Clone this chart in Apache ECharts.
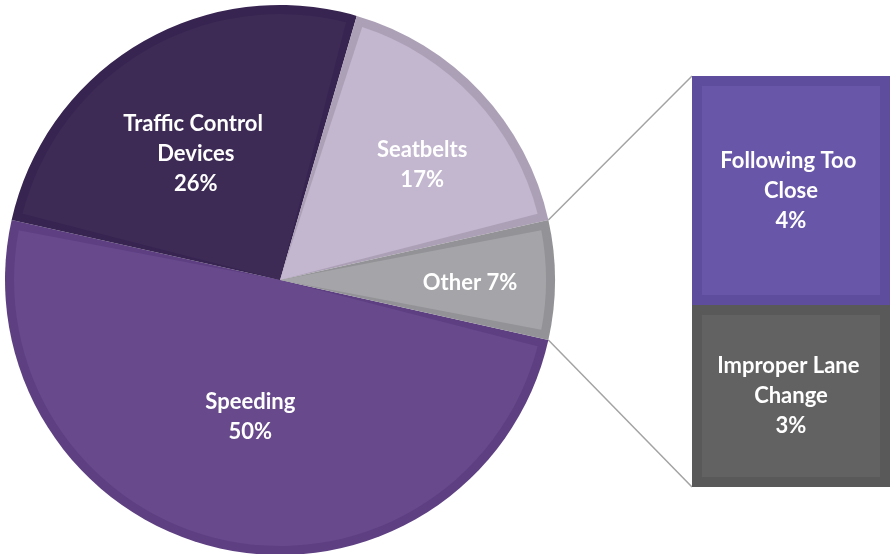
<!DOCTYPE html>
<html>
<head>
<meta charset="utf-8">
<script src="https://cdn.jsdelivr.net/npm/echarts@6/dist/echarts.min.js"></script>
<style>
  html, body { margin: 0; padding: 0; background: #fff; }
  #main { width: 890px; height: 554px; }
</style>
</head>
<body>
<div id="main"></div>
<script>
// pie: main causes (percent)
var causes = ['Speeding', 'Traffic Control Devices', 'Seatbelts', 'Other'];
var causeValues = [50, 26, 17, 7];
// bar: breakdown of "Other" (top to bottom)
var otherNames = ['Following Too Close', 'Improper Lane Change'];
var otherValues = [3.9, 3.1];

var pieFill = ['#67498C', '#3D2A55', '#C3B6CF', '#A5A5A9'];
var pieEdge = ['#5D3F82', '#372450', '#ACA0B6', '#939397'];
var barFill = ['#6856A8', '#626262'];
var barEdge = ['#5E4C9D', '#595959'];
// nudges so the labels sit where the original has them (applied twice by the layout)
var labelShift = [[0, 2], [-7.5, -4.5], [21.5, -11], [27, 1.5]];

var cx = 280, cy = 280, R = 275, edge = 9;
var barLeft = 692;
var font = 'Lato';

var total = causeValues.reduce(function (a, b) { return a + b; }, 0);
var otherIdx = causes.indexOf('Other');
// keep the "Other" slice centred on 3 o'clock
var startAngle = -causeValues[otherIdx] / total * 180;

var otherTotal = otherValues.reduce(function (a, b) { return a + b; }, 0);
var barData = [];
var acc = 0;
for (var i = otherValues.length - 1; i >= 0; i--) {
  barData[i] = [0, acc, acc + otherValues[i]];
  acc += otherValues[i];
}

var chart = echarts.init(document.getElementById('main'));

chart.setOption({
  animation: false,
  grid: { left: barLeft, top: 76, bottom: 67, width: 206 },
  xAxis: { type: 'category', data: ['other'], show: false },
  yAxis: { type: 'value', min: 0, max: otherTotal, show: false },
  series: [
    {
      type: 'pie',
      silent: true,
      center: [cx, cy],
      radius: R,
      startAngle: startAngle,
      label: { show: false },
      labelLine: { show: false },
      data: causes.map(function (n, i) {
        return { name: n, value: causeValues[i], itemStyle: { color: pieEdge[i] } };
      })
    },
    {
      type: 'pie',
      center: [cx, cy],
      radius: R - edge,
      startAngle: startAngle,
      padAngle: 3.6,
      avoidLabelOverlap: false,
      labelLine: { show: false },
      label: {
        show: true,
        position: 'inside',
        color: '#fff',
        fontFamily: font,
        fontWeight: 'bold',
        fontSize: 22,
        lineHeight: 30,
        width: 175,
        overflow: 'break',
        formatter: function (p) {
          return p.name === 'Other' ? p.name + ' ' + p.value + '%' : p.name + '\n' + p.value + '%';
        }
      },
      labelLayout: function (p) {
        var s = labelShift[p.dataIndex];
        return { dx: s[0], dy: s[1] };
      },
      data: causes.map(function (n, i) {
        return { name: n, value: causeValues[i], itemStyle: { color: pieFill[i] } };
      })
    },
    {
      type: 'custom',
      data: barData,
      encode: { x: 0, y: [1, 2] },
      renderItem: function (params, api) {
        var i = params.dataIndex;
        var top = api.coord([0, api.value(2)]);
        var bot = api.coord([0, api.value(1)]);
        var w = api.size([1, 0])[0];
        var x = top[0] - w / 2;
        var h = bot[1] - top[1];
        var inset = 10;
        return {
          type: 'group',
          children: [
            { type: 'rect', shape: { x: x, y: top[1], width: w, height: h }, style: { fill: barEdge[i] } },
            {
              type: 'rect',
              shape: { x: x + inset, y: top[1] + inset, width: w - 2 * inset, height: h - 2 * inset },
              style: { fill: barFill[i] },
              textContent: {
                style: {
                  text: otherNames[i] + '\n' + Math.round(otherValues[i]) + '%',
                  fill: '#fff',
                  fontFamily: font,
                  fontWeight: 'bold',
                  fontSize: 22,
                  lineHeight: 30,
                  width: 170,
                  overflow: 'break',
                  align: 'center'
                }
              },
              textConfig: { position: 'inside' }
            }
          ]
        };
      }
    }
  ]
});

// connector lines from the "Other" slice edges to the bar corners
var a = startAngle * Math.PI / 180;
var px = cx + R * Math.cos(a);
var topY = chart.convertToPixel({ yAxisIndex: 0 }, otherTotal);
var botY = chart.convertToPixel({ yAxisIndex: 0 }, 0);
var lineStyle = { stroke: '#A3A3A3', lineWidth: 1.5 };
chart.setOption({
  graphic: [
    { type: 'line', shape: { x1: px, y1: cy + R * Math.sin(a), x2: barLeft, y2: topY }, style: lineStyle },
    { type: 'line', shape: { x1: px, y1: cy - R * Math.sin(a), x2: barLeft, y2: botY }, style: lineStyle }
  ]
});
</script>
</body>
</html>
